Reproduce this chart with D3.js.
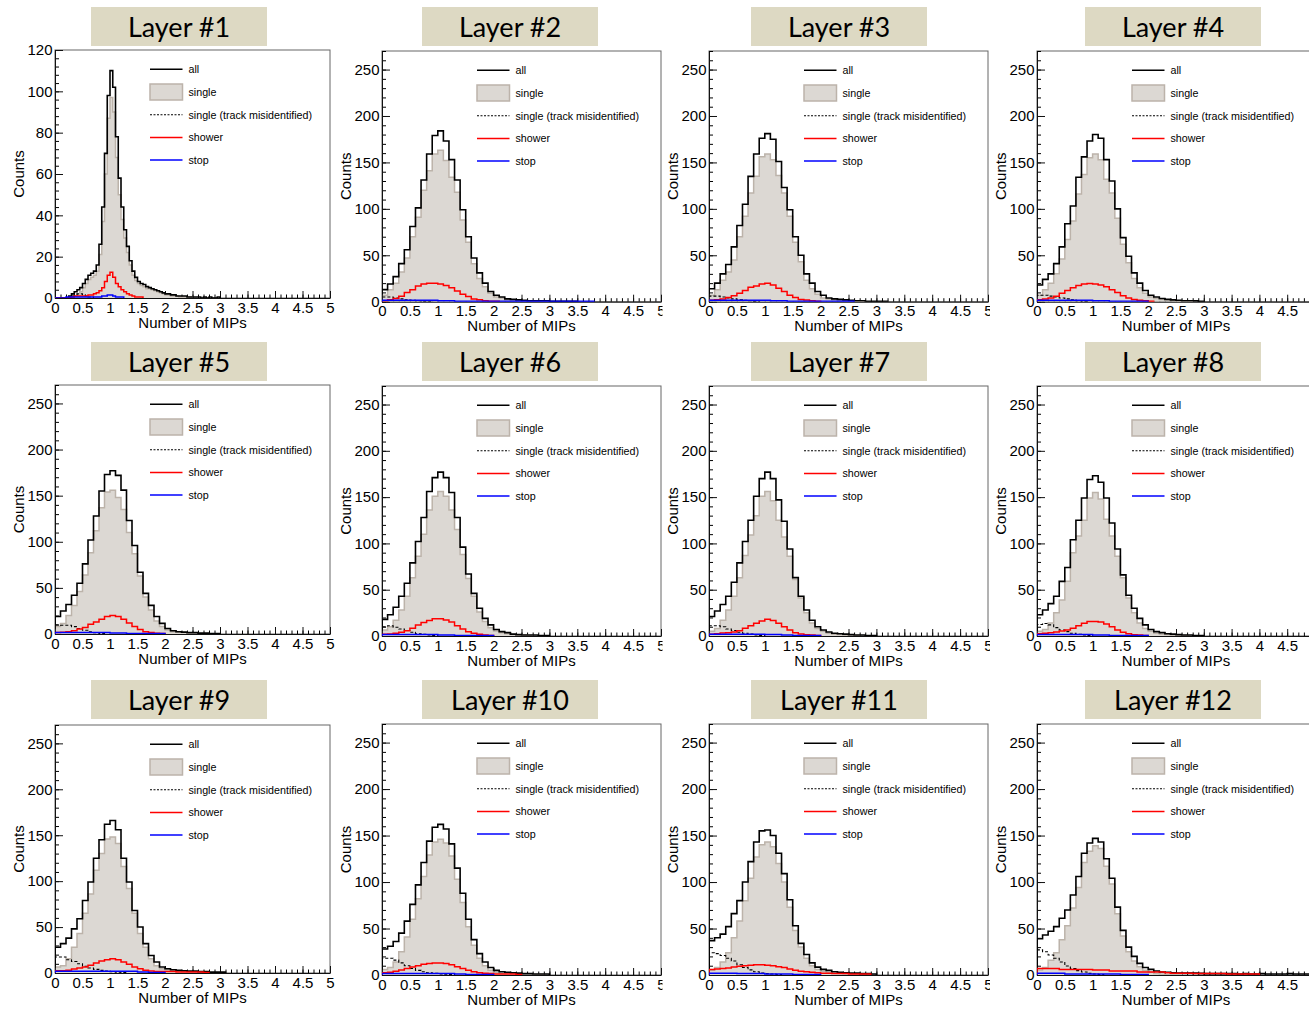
<!DOCTYPE html>
<html>
<head>
<meta charset="utf-8">
<script src="https://cdn.jsdelivr.net/npm/d3@7"></script>
<style>
  html, body { margin: 0; padding: 0; background: #fff; }
  svg { display: block; }
</style>
</head>
<body>
<svg id="chart" width="1309" height="1009"></svg>
<script>
// ---------------------------------------------------------------
// Data: MIP response per scintillator layer
// ---------------------------------------------------------------
const layerNames = ["Layer #1","Layer #2","Layer #3","Layer #4",
                    "Layer #5","Layer #6","Layer #7","Layer #8",
                    "Layer #9","Layer #10","Layer #11","Layer #12"];

// bin width (in MIPs) and y-axis maximum for each layer
const binWidths = [0.05,0.1,0.1,0.1,0.1,0.1,0.1,0.1,0.1,0.1,0.1,0.1];
const yMaxima   = [120,270,270,270,270,270,270,270,270,270,270,270];
const yTickStep = [20,50,50,50,50,50,50,50,50,50,50,50];
const yMinorStep= [4,10,10,10,10,10,10,10,10,10,10,10];

const xTickValues = [0,0.5,1,1.5,2,2.5,3,3.5,4,4.5,5];
const xTickLabels = ["0","0.5","1","1.5","2","2.5","3","3.5","4","4.5","5"];

const legendLabels = ["all","single","single (track misidentified)","shower","stop"];

// bin contents, starting at 0 MIPs; bins beyond the end of a list are empty
const allCounts = [
  [0,0,0,0,0,1,2,3,4,5,7,9,11,12,13,16,26,44,70,98,110,102,78,58,44,33,25,18,13,10,8,7,6.5,5.5,5,4.5,4,3.5,3,2.5,2,2,1.5,1.5,1,1,1,1,0.5,0.5,0.5,0.5,0.5,0,0.5,0,0.5,0,0,0.5],
  [13,19,27,41,56,81,101,131,159,179,184,173,153,131,99,70,47,31,20,11,7,5,3,2.5,2,1.5,1,1,1,1,0.5,0.5,0.5,0.5,0.5],
  [14,20,30,40,59,82,105,135,159,176,181,175,151,123,99,70,50,30,20,11,7,4,3,2.5,2,1.5,1,1,0.5,0.5,0.5,0.5],
  [18,24,30,41,59,84,103,134,156,173,180,176,153,130,100,69,49,31,20,12,7,5,3.5,2.5,2,1.5,1,1,1,0.5],
  [19,25,32,42,55,76,102,128,155,173,177,172,156,123,96,67,44,31,19,11.5,6,3.6,2.5,2,1.5,1.5,1,1,0.5,0.5],
  [18,23,31,43,57,79,102,128,156,171,177,171,155,128,96,67,46,30,19,12,7,4.7,3.6,2,1.5,1,1,1,0.5,0.5],
  [21,27,34,43,58,79,102,125,151,170,177,170,147,124,94,63,43,28,17,10,6.5,4.3,3,2.5,2,1.5,1,1,0.5,0.5],
  [23,28,35,43,59,74,104,125,149,169,173,166,149,122,94,66,44,30,19,12,7,4.7,3.6,2.5,2,1.5,1,1,0.5,0.5],
  [28,32,38,48,59,79,99,125,145,162,166,156,125,99,68,50,32,19,12,6.5,4.7,3.6,2.9,2.5,2,2,1.5,1.5,1,1,1],
  [28,31,36,45,58,76,97,121,144,159,162,157,141,115,88,60,38,23,14,8,5,3.5,3,2.5,2,1.5,1.5,1,1,1],
  [37,40,44,52,66,80,100,122,143,155,156,150,131,109,81,53,34,22,13,8.5,6,5,3.5,3,2.5,2,2,1.5,1.5,1],
  [39,43,47,52,61,70,86,106,131,142,147,143,125,104,73,48,30,20,12.5,8,6,4.3,3.2,2.9,2.5,2,2,2,2,1.8,1.5,1.5,1.5,1.5,1.5,1.5,1,1.5,1,1,1.5,1,1,1,1,1.5,1,1,1,1]
];

const singleCounts = [
  [0,0,0,0,0,0,0.5,1,2,3,5,7,9,10,11,13,21,37,60,87,97,90,68,50,38,29,22,16,11,8.5,7,6,5.5,4.5,4.5,4,3.5,3,2.5,2,1.5,1.5,1,1,1,0.5,0.5,0.5,0.5,0.5],
  [7,13,20,32,47,70,91,120,141,159,163,152,134,118,88,64,41,25,16,9,5,4,2,2,1.5,1,1,0.5,0.5,0.5],
  [7,13,23,32,45,70,92,117,135,156,159,153,136,117,92,64,43,23,14,8,4,3,2,1.5,1,1,0.5,0.5],
  [7,13,20,30,46,67,87,116,137,155,159,153,132,117,90,62,42,25,15,9,5,3.5,2.5,2,1.5,1,1,0.5],
  [8,11.5,20,31,46,64,88,112,137,154,156,148,135,110,87,63,40,26,14,8,4.3,2.5,2,1.5,1,1,0.5],
  [6.5,10,17,28,43,63,86,110,136,151,156,151,136,115,88,62,43,26,15.6,9,5.4,3.6,2.5,1.5,1,1,0.5],
  [5,8,17,28,43,63,87,109,130,151,156,146,125,107,86,61,41,25,14,8,5,3,2,1.5,1,1,0.5],
  [5,7,14,25,39,59,90,108,125,149,155,148,126,108,86,63,41,25,14,8,5,3,2,1.5,1,1,0.5],
  [6.5,8,15.5,28,43,65,86,112,130,146,148,141,116,92,65,43,28,15.5,8,4.7,3.6,2.9,2,1.5,1,1,0.5],
  [6,8,14,25,41,60,82,106,129,143,146,142,128,103,78,52,32,18,10,5,3,2,2,1.5,1,1,1,0.5,0.5],
  [5,8,14,24,40,58,80,104,127,140,143,138,120,100,73,48,30,18,10,6,4,3,2,1.5,1,1,1,0.5],
  [5.4,8,16,24,38,53,72,94,121,133,139,136,117,98,66,42,25,15,9,5,3,1.5,1,0.5,0.5,0.5]
];

const misidCounts = [
  [0,0,0,0,0,0.5,1,1.5,2,2,1.5,1,0.5,0.5],
  [5,5,4,3,2,1.5,1,0.5,0.5],
  [6,6,5,4,3,2,1.5,1,0.5],
  [7,7,6,5,4,3,2,1,0.5],
  [10,9.5,9.5,8,6,4,2.5,1.5,0.7],
  [10,11,9.5,7.5,6,4,2.5,1.8,1,0.5],
  [11,11,10,7.5,6,4,3,2,1,0.5],
  [12.5,13.5,12,9,6.5,4.7,3,1.8,1,0.5],
  [17.5,17.5,14.5,12.5,10,7.3,5.4,4,2.9,2.2,1.5,1,0.5],
  [18,18,16,13,10,7,5,3.5,2.5,1.8,1.2,0.8,0.5],
  [24,23,21,18,15,11,8,5.5,3.5,2,1.5,1,0.5],
  [27,25,21.5,18,14,9.7,7,4.7,3.2,1.8,1,0.5]
];

const showerCounts = [
  [0,0,0,0,0,0,0.5,1,1,1,1,1,1.5,1.5,2,2.5,3.5,5,8,11,12.5,10,7,5.5,4,3,2,1.5,1,0.5,0.5,0.5],
  [1,2,3.5,6,10,13,17,19,20,20,19,17.5,15,11.5,8,5.5,3,2,1,0.5,0.5],
  [1.5,2,3,4.5,6.5,9,12,15.5,17,19,20,18,14.5,11,7,4.5,2.5,1.8,1,0.5],
  [2,3,4,6,9,12,15,17.5,19,19.5,19,18,16,13,10,6.5,4,2.5,1.5,1,0.5],
  [1.5,2,2.5,3.5,5.5,7,10.5,13,16,19,20,19,16,12,8,5,2.5,1.5,0.7,0.5],
  [1.8,2.2,2.9,4,5.8,8.3,12,14.5,16.7,18.5,18.5,17.4,15,11,7.6,4.7,2.9,1.8,1,0.5],
  [1.8,2.5,3.3,3.6,4.3,5.8,8.3,11,13.8,16.3,18,16.7,13.8,10,6.5,3.6,2.2,1.4,1,0.5],
  [2.5,2.9,3.6,4.3,5.4,6.5,8.3,11,13.8,15.6,15.6,15,13,10,6.5,4,2.5,1.4,1,0.5],
  [2.5,2.5,2.9,4.4,5.5,6.5,8.4,11,13,14.5,15.6,14.5,12,9.4,6.5,4.7,2.9,2.2,1.5,1.5,1.5,1.5,1,1,1,1,1,0.5],
  [2.5,3,4,5.5,7,8.5,10,11.5,12.5,13,13,12.5,11,9,7,5,3.5,2.5,2,1.5,1,1,1,1,0.5],
  [6,6.5,7,7.5,8.5,9.5,10,10.5,11,11,10.5,10,9,8,6.5,5,4,3.5,3,2.5,2,2,1.5,1.5,1.5,1,1,1,1],
  [7,7,7,7,6,6,6,6,6,6,5.4,5.4,5.4,4.3,4.3,4.3,4.3,4.3,3.2,3.2,3.2,3.2,3.2,2.5,2,2,2,2,1.5,1.5,1.5,1.5,1.5,1.5,1,1,1,1,1,1]
];

const stopCounts = [
  [0,0,0,0,0.5,0.5,0.5,0.5,0.5,0.5,0.5,0.5,0.5,0.5,0.5,0.5,0.5,1,1,1.5,1.5,1,0.5,0.5,0.5],
  [1.5,1.5,1.5,1.5,1.5,1.5,1.5,1.5,1.5,1.5,1,1,1,0.5,0.5,0.5,0.5,0.5,0.5,0.5,0.5,0.5,0.5,0.5,0.5,0.5,0.5,0.5,0.5,0.5,0.5,0.5,0.5,0.5,0.5,0.5,0.5,0.5],
  [1.5,1.5,1.5,1.5,1.5,1.5,1.5,1.5,1.5,1.5,1.5,1,1,1,0.5,0.5,0.5,0.5,0.5,0.5,0.5,0.5,0.5,0.5,0.5,0.5],
  [1.5,1.5,1.5,1.5,1.5,1.5,1.5,1.5,1.5,1.5,1,1,1,0.5,0.5,0.5,0.5,0.5,0.5,0.5],
  [1.5,1.5,1.5,1.5,1.5,1.5,1.5,1.5,1.5,1.5,1,1,1,0.5,0.5,0.5,0.5,0.5,0.5,0.5],
  [1.5,1.5,1.5,1.5,1.5,1.5,1.5,1.5,1.5,1.5,1,1,1,0.5,0.5,0.5,0.5,0.5,0.5,0.5],
  [2,2,2,2,2,2,2,2,2,2,1.5,1.5,1.5,1,1,0.5,0.5,0.5,0.5,0.5],
  [1.5,1.5,1.5,1.5,1.5,1.5,1.5,1.5,1.5,1.5,1,1,1,0.5,0.5,0.5,0.5,0.5,0.5,0.5],
  [1.8,1.8,1.8,1.8,1.8,1.8,1.8,1.8,1.8,1.8,1.8,1.8,1.8,1.8,1.8,1,1,0.5,0.5,0.5],
  [1.5,1.5,1.5,1.5,1.5,1.5,1.5,1.5,1.5,1.5,1.5,1.5,1.5,1,1,0.5,0.5,0.5,0.5,0.5],
  [2,2,2,2,2,1.5,1.5,1.5,1.5,1.5,1,1,1,1,1,0.5,0.5,0.5,0.5,0.5],
  [1.8,1.8,1.8,1.8,1.8,1,1,1,1,1,1,1,1,1,1,0.5,0.5,0.5,0.5,0.5]
];

// ---------------------------------------------------------------
// Layout: a 4 x 3 grid of framed histograms
// ---------------------------------------------------------------
const pageWidth = 1309;
const frameLeft   = [55, 382, 709, 1037];
const frameRight  = [330, 661, 988, 1315];
const frameTop    = [[50, 51, 51, 51], [385, 386, 386, 386], [725, 724, 724, 724]];
const frameBottom = [[298, 301.7, 301.7, 301.7], [634, 636, 636, 636], [973, 975, 975, 975]];
const titleLeft   = [91, 422, 751, 1085];
const titleTop    = [7, 342, 680];
const columnClip  = [[0, 340], [338, 662.5], [664, 990], [992, 1309]];

const tickFont = "'Liberation Sans', Arial, Helvetica, sans-serif";

const svg = d3.select("#chart");
const defs = svg.append("defs");

// step outline of a histogram, closed down to the baseline at both ends
function stepLine(values, width, x, y) {
  const pts = [[0, 0]];
  values.forEach((v, i) => pts.push([i * width, v]));
  pts.push([values.length * width, 0]);
  return d3.line()
    .x(d => x(d[0]))
    .y(d => y(d[1]))
    .curve(d3.curveStepAfter)(pts);
}

layerNames.forEach((name, k) => {
  const r = Math.floor(k / 4), c = k % 4;
  const left = frameLeft[c], right = frameRight[c];
  const top = frameTop[r][c], bottom = frameBottom[r][c];
  const w = binWidths[k];

  const x = d3.scaleLinear().domain([0, 5]).range([left, right]);
  const y = d3.scaleLinear().domain([0, yMaxima[k]]).range([bottom, top]);

  defs.append("clipPath").attr("id", "col" + k).append("rect")
    .attr("x", columnClip[c][0]).attr("y", 0)
    .attr("width", columnClip[c][1] - columnClip[c][0]).attr("height", 1009);
  defs.append("clipPath").attr("id", "frame" + k).append("rect")
    .attr("x", left).attr("y", top - 1)
    .attr("width", right - left).attr("height", bottom - top + 1);

  const g = svg.append("g").attr("clip-path", `url(#col${k})`);

  // title banner
  g.append("rect")
    .attr("x", titleLeft[c]).attr("y", titleTop[r])
    .attr("width", 176).attr("height", 39)
    .attr("fill", "#ddd9c3");
  g.append("text")
    .attr("x", titleLeft[c] + 88).attr("y", titleTop[r] + 30)
    .attr("text-anchor", "middle")
    .attr("font-family", "Lato, 'Open Sans', sans-serif")
    .attr("font-size", 27)
    .attr("fill", "#000")
    .text(name);

  // frame
  g.append("rect")
    .attr("x", left).attr("y", top)
    .attr("width", right - left).attr("height", bottom - top)
    .attr("fill", "#fff").attr("stroke", "#666").attr("stroke-width", 1);

  // axes (major ticks with labels, minor ticks without)
  const yMajor = d3.range(0, yMaxima[k] + 1e-6, yTickStep[k]);
  const yMinor = d3.range(0, yMaxima[k] + 1e-6, yMinorStep[k]);
  const xMinor = d3.range(0, 51).map(i => i / 10);

  const styleAxis = sel => {
    sel.attr("font-family", tickFont).attr("font-size", 15).attr("color", "#111");
    sel.selectAll("text").attr("fill", "#000");
  };

  g.append("g").attr("transform", `translate(0,${bottom})`)
    .call(d3.axisBottom(x).tickValues(xMinor).tickFormat("").tickSize(-3.5).tickSizeOuter(0))
    .call(s => s.select(".domain").remove());
  g.append("g").attr("transform", `translate(${left},0)`)
    .call(d3.axisLeft(y).tickValues(yMinor).tickFormat("").tickSize(-4).tickSizeOuter(0))
    .call(s => s.select(".domain").remove());

  // labels whose centre falls past the page edge are left out
  g.append("g").attr("transform", `translate(0,${bottom})`)
    .call(d3.axisBottom(x).tickValues(xTickValues)
      .tickFormat((d, i) => x(d) + 4 > pageWidth ? "" : xTickLabels[i])
      .tickSize(-7).tickSizeOuter(0).tickPadding(4))
    .call(styleAxis);
  g.append("g").attr("transform", `translate(${left},0)`)
    .call(d3.axisLeft(y).tickValues(yMajor).tickSize(-8).tickSizeOuter(0).tickPadding(2.5))
    .call(styleAxis);

  // axis titles
  g.append("text")
    .attr("x", (left + right) / 2).attr("y", bottom + 29.5)
    .attr("text-anchor", "middle")
    .attr("font-family", tickFont).attr("font-size", 15)
    .text("Number of MIPs");
  g.append("text")
    .attr("transform", `translate(${left - 31.5},${(top + bottom) / 2}) rotate(-90)`)
    .attr("text-anchor", "middle")
    .attr("font-family", tickFont).attr("font-size", 15)
    .text("Counts");

  // histograms
  const h = g.append("g").attr("clip-path", `url(#frame${k})`);
  h.append("path")
    .attr("d", stepLine(singleCounts[k], w, x, y))
    .attr("fill", "#dcd8d3").attr("stroke", "#bcb3aa").attr("stroke-width", 1.5);
  h.append("path")
    .attr("d", stepLine(allCounts[k], w, x, y))
    .attr("fill", "none").attr("stroke", "#000").attr("stroke-width", 1.6);
  h.append("path")
    .attr("d", stepLine(misidCounts[k], w, x, y))
    .attr("fill", "none").attr("stroke", "#000").attr("stroke-width", 1.1)
    .attr("stroke-dasharray", "3,2");
  h.append("path")
    .attr("d", stepLine(showerCounts[k], w, x, y))
    .attr("fill", "none").attr("stroke", "#ff0000").attr("stroke-width", 1.5);
  h.append("path")
    .attr("d", stepLine(stopCounts[k], w, x, y))
    .attr("fill", "none").attr("stroke", "#0000ff").attr("stroke-width", 1.5);

  // legend
  const lx0 = left + 95, lx1 = left + 127.5, tx = left + 133.5;
  const ly = i => top + 19.3 + i * 22.7;
  const lg = g.append("g");
  legendLabels.forEach((label, i) => {
    if (i === 1) {
      lg.append("rect")
        .attr("x", lx0).attr("y", ly(i) - 8)
        .attr("width", lx1 - lx0).attr("height", 16)
        .attr("fill", "#dcd8d3").attr("stroke", "#bcb3aa").attr("stroke-width", 1.5);
    } else {
      const stroke = i === 3 ? "#ff0000" : i === 4 ? "#0000ff" : "#000";
      lg.append("line")
        .attr("x1", lx0).attr("x2", lx1).attr("y1", ly(i)).attr("y2", ly(i))
        .attr("stroke", stroke)
        .attr("stroke-width", i === 2 ? 1.1 : 1.5)
        .attr("stroke-dasharray", i === 2 ? "2,1.5" : null);
    }
    lg.append("text")
      .attr("x", tx).attr("y", ly(i) + 4)
      .attr("font-family", tickFont).attr("font-size", 10.7)
      .attr("fill", "#000")
      .text(label);
  });
});
</script>
</body>
</html>
